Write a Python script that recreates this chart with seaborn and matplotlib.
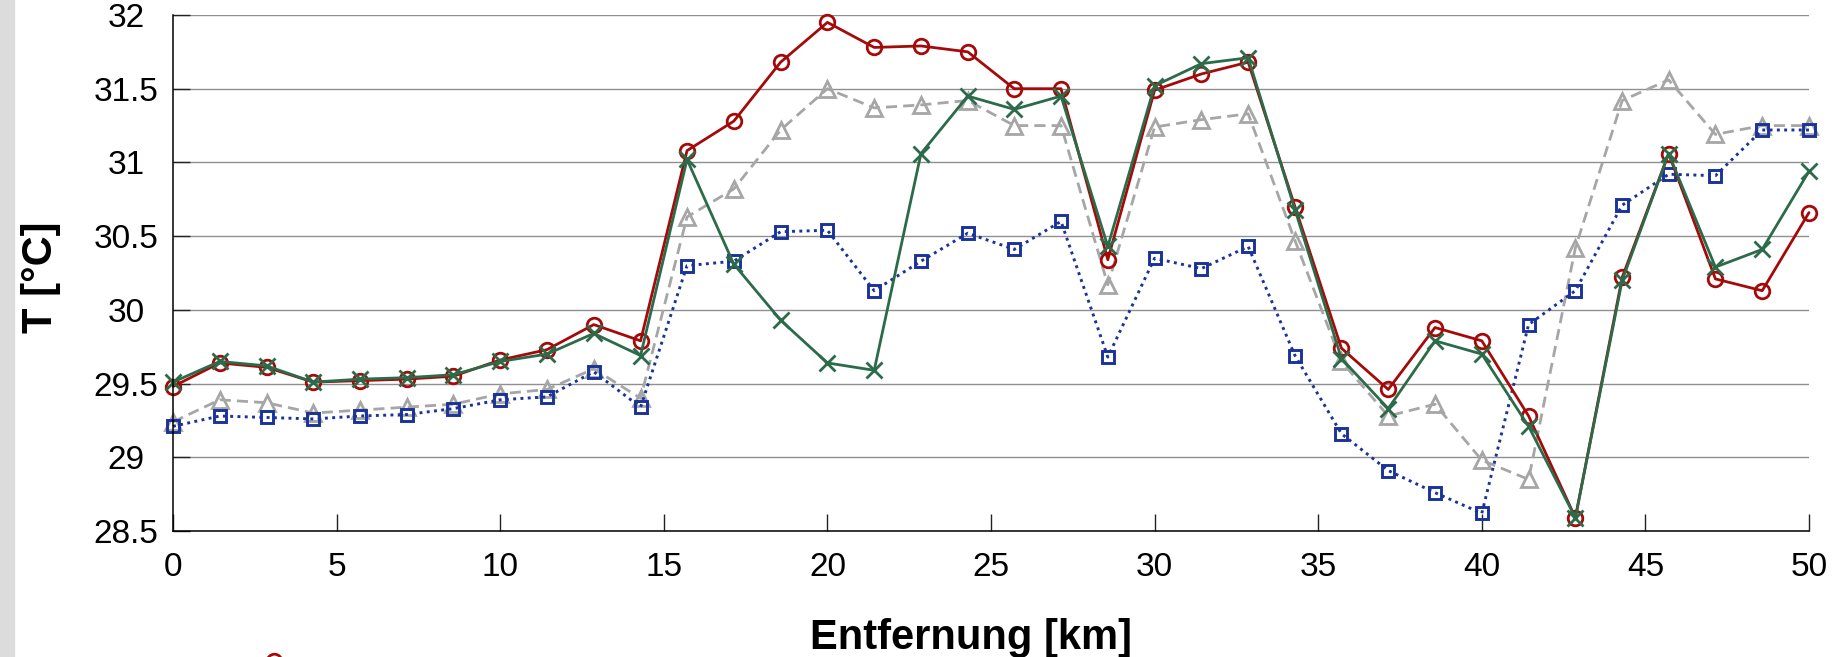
import matplotlib
matplotlib.use("Agg")
import matplotlib.pyplot as plt
from matplotlib.patches import Rectangle
import seaborn as sns

# distance along the transect [km]
entfernung = [0.0, 1.43, 2.86, 4.29, 5.71, 7.14, 8.57, 10.0, 11.43, 12.86, 14.29, 15.71,
              17.14, 18.57, 20.0, 21.43, 22.86, 24.29, 25.71, 27.14, 28.57, 30.0, 31.43, 32.86,
              34.29, 35.71, 37.14, 38.57, 40.0, 41.43, 42.86, 44.29, 45.71, 47.14, 48.57, 50.0]

# temperature series [deg C]
t_rot = [29.48, 29.64, 29.61, 29.51, 29.52, 29.53, 29.55, 29.66, 29.73, 29.90, 29.79, 31.08,
         31.28, 31.68, 31.95, 31.78, 31.79, 31.75, 31.50, 31.50, 30.34, 31.49, 31.60, 31.68,
         30.70, 29.74, 29.46, 29.88, 29.79, 29.28, 28.59, 30.22, 31.06, 30.21, 30.13, 30.66]
t_gruen = [29.51, 29.65, 29.62, 29.51, 29.53, 29.54, 29.56, 29.65, 29.70, 29.84, 29.69, 31.02,
           30.31, 29.93, 29.64, 29.59, 31.06, 31.45, 31.36, 31.45, 30.43, 31.52, 31.67, 31.71,
           30.68, 29.67, 29.33, 29.79, 29.70, 29.21, 28.59, 30.20, 31.06, 30.29, 30.41, 30.94]
t_grau = [29.24, 29.39, 29.37, 29.30, 29.32, 29.34, 29.36, 29.43, 29.46, 29.60, 29.40, 30.63,
          30.82, 31.22, 31.50, 31.37, 31.39, 31.42, 31.25, 31.25, 30.17, 31.24, 31.29, 31.33,
          30.47, 29.65, 29.28, 29.36, 28.98, 28.85, 30.42, 31.42, 31.56, 31.19, 31.25, 31.25]
t_blau = [29.21, 29.28, 29.27, 29.26, 29.28, 29.29, 29.33, 29.39, 29.41, 29.58, 29.34, 30.30,
          30.33, 30.53, 30.54, 30.13, 30.33, 30.52, 30.41, 30.60, 29.68, 30.35, 30.28, 30.43,
          29.69, 29.16, 28.91, 28.76, 28.62, 29.90, 30.13, 30.71, 30.92, 30.91, 31.22, 31.22]

xticks = [0, 5, 10, 15, 20, 25, 30, 35, 40, 45, 50]
yticks = [28.5, 29, 29.5, 30, 30.5, 31, 31.5, 32]
ytick_labels = ["28.5", "29", "29.5", "30", "30.5", "31", "31.5", "32"]

sns.set_theme(style="white")
plt.rcParams['font.family'] = ['Liberation Sans', 'DejaVu Sans']

W, H = 1847, 657
fig = plt.figure(figsize=(W / 100, H / 100), dpi=100)
fig.patch.set_facecolor("white")
# grey strip on the left edge
fig.patches.append(Rectangle((0, 0), 14 / W, 1, transform=fig.transFigure,
                             color="#dcdcdc", zorder=0))

ax = fig.add_axes([173 / W, 1 - 531 / H, (1809 - 173) / W, (531 - 15) / H])

sns.lineplot(x=entfernung, y=t_grau, ax=ax, color="#a6a6a6", lw=2.0,
             marker="^", ms=11, mfc="none", mec="#a6a6a6", mew=2.0, clip_on=False)
ax.lines[-1].set_linestyle((0, (4, 2.2)))
sns.lineplot(x=entfernung, y=t_blau, ax=ax, color="#1a3399", lw=2.1,
             marker="s", ms=8.5, mfc="none", mec="#1a3399", mew=2.1, clip_on=False)
ax.lines[-1].set_linestyle((0, (1, 1.5)))
sns.lineplot(x=entfernung, y=t_rot, ax=ax, color="#a50a0a", lw=2.0,
             marker="o", ms=10.5, mfc="none", mec="#a50a0a", mew=2.0, clip_on=False,
             label="rot")
sns.lineplot(x=entfernung, y=t_gruen, ax=ax, color="#2b6b4a", lw=2.0,
             marker="x", ms=11, mec="#2b6b4a", mew=2.0, clip_on=False)

if ax.get_legend() is not None:
    ax.get_legend().remove()

ax.set_xlim(0, 50)
ax.set_ylim(28.5, 32)
ax.set_xticks(xticks)
ax.set_yticks(yticks)
ax.set_yticklabels(ytick_labels)
ax.yaxis.grid(True, color="#8f8f8f", lw=1.0)
ax.xaxis.grid(False)
ax.set_axisbelow(True)

for s in ["top", "right"]:
    ax.spines[s].set_visible(False)
for s in ["left", "bottom"]:
    ax.spines[s].set_color("black")
    ax.spines[s].set_linewidth(1.1)

ax.tick_params(axis="x", direction="in", length=12, width=1, color="#222222",
               pad=15, labelsize=24, labelcolor="black", bottom=True)
ax.tick_params(axis="y", direction="in", length=12, width=1, color="#222222",
               pad=34, labelsize=24, labelcolor="black", left=True)
for lab in ax.get_yticklabels():
    lab.set_horizontalalignment("center")

ax.set_xlabel("Entfernung [km]", fontsize=30, fontweight="bold", color="black")
ax.set_ylabel("T [°C]", fontsize=30, fontweight="bold", color="black")
ax.xaxis.set_label_coords(971 / W, 1 - 638 / H, transform=fig.transFigure)
ax.xaxis.label.set_verticalalignment("center")
ax.yaxis.set_label_coords(41 / W, 1 - 277 / H, transform=fig.transFigure)
ax.yaxis.label.set_verticalalignment("center")

# legend sits below the figure, only the top of the first marker shows
red_line = ax.lines[2]
fig.legend(handles=[red_line], labels=[""], loc="center left",
           bbox_to_anchor=(268 / W, 1 - 662 / H), frameon=False, fontsize=8,
           borderpad=0, borderaxespad=0, handlelength=1, handletextpad=0.4)

fig.savefig("out.png", dpi=100, facecolor="white")
